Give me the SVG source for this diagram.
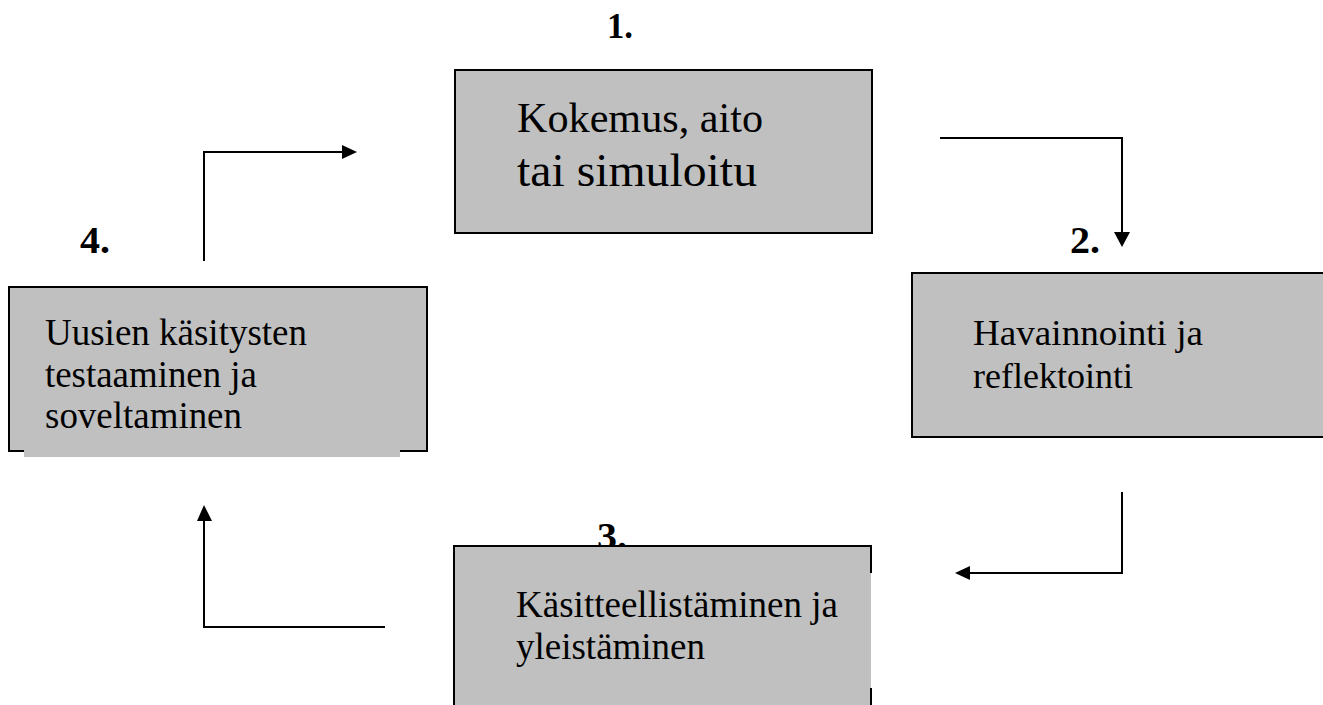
<svg xmlns="http://www.w3.org/2000/svg" width="1323" height="705" viewBox="0 0 1323 705">
<style>
.box{fill:#c0c0c0;stroke:#000;stroke-width:2}
.fill{fill:#c0c0c0;stroke:none}
.edge{fill:none;stroke:#000;stroke-width:2}
.c{fill:none;stroke:#000;stroke-width:2}
text{fill:#000;font-family:"Liberation Serif","DejaVu Serif",serif}
.n{font-weight:bold}
</style>
<rect width="1323" height="705" fill="#fff"/>
<g id="node1">
<text class="n" x="607" y="38" font-size="36" textLength="26" lengthAdjust="spacingAndGlyphs">1.</text>
<rect class="box" x="455" y="70" width="417" height="163"/>
<text x="517" y="132" font-size="42" textLength="246" lengthAdjust="spacingAndGlyphs">Kokemus, aito</text>
<text x="517" y="186" font-size="47" textLength="240" lengthAdjust="spacingAndGlyphs">tai simuloitu</text>
</g>
<g id="node2">
<text class="n" x="1070" y="253" font-size="38" textLength="30" lengthAdjust="spacingAndGlyphs">2.</text>
<rect class="box" x="912" y="273" width="420" height="164"/>
<text x="973" y="345" font-size="36" textLength="230" lengthAdjust="spacingAndGlyphs">Havainnointi ja</text>
<text x="973" y="388" font-size="36" textLength="160" lengthAdjust="spacingAndGlyphs">reflektointi</text>
</g>
<g id="node3">
<text class="n" x="597" y="549" font-size="38" textLength="30" lengthAdjust="spacingAndGlyphs">3.</text>
<rect class="fill" x="454" y="546" width="417" height="170"/>
<path class="edge" d="M454 716 V546 H871 V573 M871 688 V716"/>
<text x="516" y="617" font-size="37" textLength="322" lengthAdjust="spacingAndGlyphs">Käsitteellistäminen ja</text>
<text x="516" y="659" font-size="37" textLength="189" lengthAdjust="spacingAndGlyphs">yleistäminen</text>
</g>
<g id="node4">
<text class="n" x="80" y="253" font-size="38" textLength="30" lengthAdjust="spacingAndGlyphs">4.</text>
<rect class="box" x="9" y="287" width="418" height="164"/>
<rect class="fill" x="24" y="449" width="376" height="8"/>
<text x="45" y="345" font-size="37" textLength="262" lengthAdjust="spacingAndGlyphs">Uusien käsitysten</text>
<text x="45" y="387" font-size="37" textLength="212" lengthAdjust="spacingAndGlyphs">testaaminen ja</text>
<text x="45" y="428" font-size="37" textLength="197" lengthAdjust="spacingAndGlyphs">soveltaminen</text>
</g>
<g id="connectors">
<path class="c" d="M204 261 V152 H343"/>
<polygon points="342,145 357,152 342,159" fill="#000"/>
<path class="c" d="M940 138 H1122 V233"/>
<polygon points="1114,232 1122,247 1130,232" fill="#000"/>
<path class="c" d="M1122 492 V573 H969"/>
<polygon points="970,566 955,573 970,580" fill="#000"/>
<path class="c" d="M385 627 H204 V520"/>
<polygon points="197,521 204,505 212,521" fill="#000"/>
</g>
</svg>
